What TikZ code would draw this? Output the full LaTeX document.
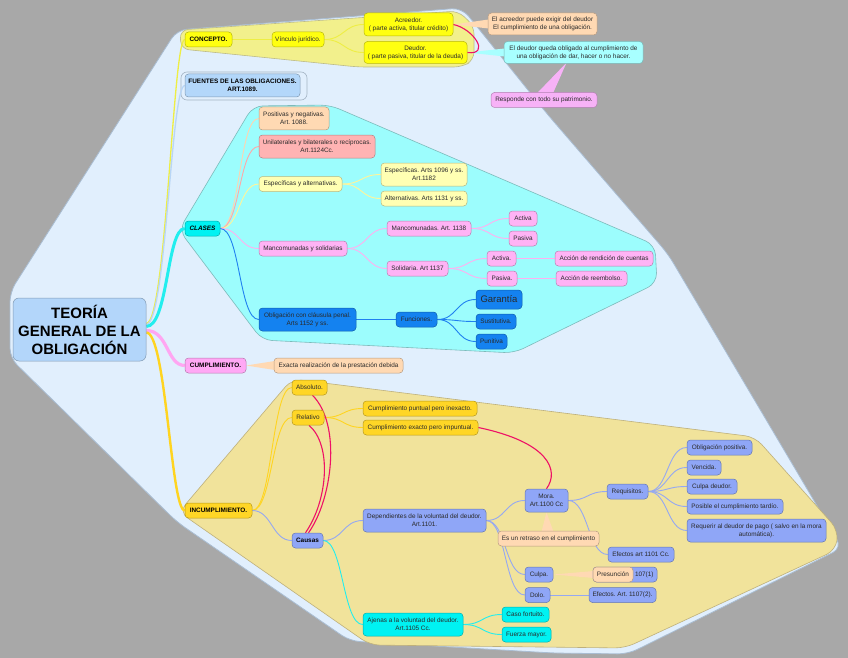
\documentclass[tikz,border=0pt]{standalone}
\usepackage{fontspec}
\setmainfont{Liberation Sans}
\frenchspacing
\usetikzlibrary{calc}
\pgfdeclarelayer{regions}
\pgfdeclarelayer{links}
\pgfsetlayers{regions,links,main}
\definecolor{bggray}{HTML}{A8A8A8}
\definecolor{outerc}{HTML}{E1EFFD}
\definecolor{outerl}{HTML}{A9BDD2}
\definecolor{conreg}{HTML}{F2F08C}
\definecolor{conregl}{HTML}{BDBB88}
\definecolor{fuentl}{HTML}{A4B4C4}
\definecolor{cyreg}{HTML}{9CFDFD}
\definecolor{cyregl}{HTML}{7DBABA}
\definecolor{khreg}{HTML}{F1E39B}
\definecolor{khregl}{HTML}{BEB07C}
\definecolor{rootc}{HTML}{B3D6FA}
\definecolor{yeln}{HTML}{FFFF10}
\definecolor{fuent}{HTML}{B3D7FA}
\definecolor{peach}{HTML}{FFD9B3}
\definecolor{salmon}{HTML}{FFB3B3}
\definecolor{lyel}{HTML}{FFFFB3}
\definecolor{pinkn}{HTML}{FFB3F5}
\definecolor{cumplc}{HTML}{FFA8F5}
\definecolor{blun}{HTML}{1482F0}
\definecolor{goldn}{HTML}{FFD626}
\definecolor{peri}{HTML}{8FA6F7}
\definecolor{cyann}{HTML}{00F2F2}
\definecolor{callcy}{HTML}{A8FFFF}
\definecolor{respink}{HTML}{F7B2F7}
\definecolor{txtc}{HTML}{2A2A2A}
\definecolor{magc}{HTML}{EE1166}
\definecolor{yelline}{HTML}{EEEE44}
\definecolor{fuline}{HTML}{B8D6F6}
\definecolor{cyline}{HTML}{22EEEE}
\definecolor{pkline}{HTML}{FFA6F2}
\definecolor{gdline}{HTML}{FFD420}
\definecolor{peline}{HTML}{95A8F2}
\definecolor{blline}{HTML}{2080F0}
\definecolor{lyline}{HTML}{FFF59A}
\definecolor{pcline}{HTML}{FFD4B0}
\definecolor{slline}{HTML}{FFA8A8}
\definecolor{mpline}{HTML}{FFB0F0}
\newcommand\tn{\fontsize{6.4}{7.8}\selectfont}
\newcommand\tbf{\fontsize{6.4}{7.8}\selectfont\bfseries}
\newcommand\cnx[4]{\draw[lk=#1] (#2) .. controls +(#4,0) and +(-#4,0) .. (#3);}
\tikzset{
  nb/.style={rounded corners=3.5pt, line width=0.5pt, inner sep=0pt, align=center, font=\tn, text=txtc},
  fl/.style={nb, fill=#1, draw=#1!72!black},
  lk/.style={line width=0.9pt, draw=#1},
  rel/.style={line width=1.1pt, draw=magc},
}
\begin{document}
\begin{tikzpicture}[x=1pt,y=-1pt]
\useasboundingbox (0,0) rectangle (848,658);
\begin{pgfonlayer}{regions}
\fill[bggray] (0,0) rectangle (848,658);
\filldraw[fill=outerc, draw=outerl, line width=0.8pt, rounded corners=10pt] (10,292) -- (177,30) -- (462,8) -- (548,115) -- (668,254) -- (713,330) -- (842,548) -- (628,654) -- (553,653) -- (350,641) -- (177,522) -- (10,358) -- cycle;
\filldraw[fill=conreg, draw=conregl, line width=0.6pt, rounded corners=8pt] (180,30) -- (458,11) -- (474,26) -- (474,60) -- (462,67) -- (358,67) -- (181,49) -- cycle;
\draw[draw=fuentl, line width=0.6pt, rounded corners=6pt] (181,72) rectangle (307,100);
\filldraw[fill=cyreg, draw=cyregl, line width=0.6pt, rounded corners=10pt] (179,230) -- (253,106) -- (330,105) -- (655,245) -- (657,283) -- (514,353) -- (262,340) -- cycle;
\filldraw[fill=khreg, draw=khregl, line width=0.6pt, rounded corners=10pt] (179,512) -- (292,379) -- (755,437) -- (838,530) -- (836,550) -- (625,648) -- (370,645) -- cycle;
\end{pgfonlayer}

% root
\node[fl=rootc, rounded corners=6pt, minimum width=133pt, minimum height=63pt, font=\fontsize{15}{18}\selectfont\bfseries, text=black] (root) at (79.5,329.5) {TEORÍA\\GENERAL DE LA\\OBLIGACIÓN};

% concepto
\node[fl=yeln, minimum width=47pt, minimum height=15pt, font=\tbf, text=black] (concepto) at (208.5,39.5) {CONCEPTO.};
\node[fl=yeln, minimum width=52pt, minimum height=15pt] (vinculo) at (298,39.5) {Vínculo jurídico.};
\node[fl=yeln, minimum width=89pt, minimum height=23pt] (acreedor) at (408.5,24.5) {Acreedor.\\( parte activa, titular crédito)};
\node[fl=yeln, minimum width=103pt, minimum height=22pt] (deudor) at (415.5,52.5) {Deudor.\\( parte pasiva, titular de la deuda)};
\node[fl=peach, minimum width=109pt, minimum height=22pt] (acnote) at (542.5,24) {El acreedor puede exigir del deudor\\El cumplimiento de una obligación.};
\node[fl=callcy, minimum width=139pt, minimum height=22pt] (denote) at (573.5,52.5) {El deudor queda obligado al cumplimiento de\\una obligación de dar, hacer o no hacer.};
\node[fl=respink, minimum width=106pt, minimum height=15pt] (respon) at (544,100) {Responde con todo su patrimonio.};

% fuentes
\node[fl=fuent, minimum width=115pt, minimum height=23pt, font=\tbf, text=black] (fuentes) at (242.5,85.5) {FUENTES DE LAS OBLIGACIONES.\\ART.1089.};

% clases
\node[fl=cyann, minimum width=35pt, minimum height=15pt, font=\tbf\itshape, text=black] (clases) at (202.5,228.5) {CLASES};
\node[fl=peach, minimum width=70pt, minimum height=23pt] (positivas) at (294,118.5) {Positivas y negativas.\\Art. 1088.};
\node[fl=salmon, minimum width=116pt, minimum height=23pt] (unilat) at (317,146.5) {Unilaterales y bilaterales o recíprocas.\\Art.1124Cc.};
\node[fl=lyel, minimum width=83pt, minimum height=15pt] (espalt) at (300.5,184) {Específicas y alternativas.};
\node[fl=lyel, minimum width=86pt, minimum height=23pt] (esparts) at (424,174.5) {Específicas. Arts 1096 y ss.\\Art.1182};
\node[fl=lyel, minimum width=86pt, minimum height=15pt] (altern) at (424,198.5) {Alternativas. Arts 1131 y ss.};
\node[fl=pinkn, minimum width=88pt, minimum height=15pt] (mancsol) at (303,248.5) {Mancomunadas y solidarias};
\node[fl=pinkn, minimum width=84pt, minimum height=15pt] (manc) at (429,228.5) {Mancomunadas. Art. 1138};
\node[fl=pinkn, minimum width=28pt, minimum height=15pt] (mact) at (523,218.5) {Activa};
\node[fl=pinkn, minimum width=28pt, minimum height=15pt] (mpas) at (523,238.5) {Pasiva};
\node[fl=pinkn, minimum width=61pt, minimum height=15pt] (solid) at (417.5,268.5) {Solidaria. Art 1137};
\node[fl=pinkn, minimum width=29pt, minimum height=15pt] (sact) at (501.5,258.5) {Activa.};
\node[fl=pinkn, minimum width=30pt, minimum height=15pt] (spas) at (502,278.5) {Pasiva.};
\node[fl=pinkn, minimum width=98pt, minimum height=15pt] (rendic) at (604,258.5) {Acción de rendición de cuentas};
\node[fl=pinkn, minimum width=71pt, minimum height=15pt] (reemb) at (591.5,278.5) {Acción de reembolso.};
\node[fl=blun, minimum width=97pt, minimum height=23pt] (oblig) at (307.5,319.5) {Obligación con cláusula penal.\\Arts 1152 y ss.};
\node[fl=blun, minimum width=41pt, minimum height=15pt] (funci) at (416.5,319.5) {Funciones.};
\node[fl=blun, minimum width=46pt, minimum height=19pt, font=\fontsize{9.5}{11}\selectfont] (garan) at (499,299.5) {Garantía};
\node[fl=blun, minimum width=40pt, minimum height=15pt] (sustit) at (496,321.5) {Sustitutiva.};
\node[fl=blun, minimum width=31pt, minimum height=15pt] (punit) at (491.5,341.5) {Punitiva};

% cumplimiento
\node[fl=cumplc, minimum width=61pt, minimum height=15pt, font=\tbf, text=black] (cumpl) at (215.5,365.5) {CUMPLIMIENTO.};
\node[fl=peach, minimum width=129pt, minimum height=15pt] (exacta) at (338.5,365.5) {Exacta realización de la prestación debida};

% incumplimiento
\node[fl=goldn, minimum width=67pt, minimum height=15pt, font=\tbf, text=black] (incump) at (218.5,510.5) {INCUMPLIMIENTO.};
\node[fl=goldn, minimum width=35pt, minimum height=15pt] (absol) at (309.5,387.5) {Absoluto.};
\node[fl=goldn, minimum width=32pt, minimum height=15pt] (relat) at (308,417.5) {Relativo};
\node[fl=goldn, minimum width=114pt, minimum height=15pt] (cpunt) at (420,408.5) {Cumplimiento puntual pero inexacto.};
\node[fl=goldn, minimum width=115pt, minimum height=15pt] (cexac) at (420.5,427.5) {Cumplimiento exacto pero impuntual.};
\node[fl=peri, minimum width=31pt, minimum height=15pt, font=\tbf, text=black] (causas) at (307.5,540.5) {Causas};
\node[fl=peri, minimum width=123pt, minimum height=23pt] (depend) at (424.5,520.5) {Dependientes de la voluntad del deudor.\\Art.1101.};
\node[fl=peri, minimum width=43pt, minimum height=23pt] (mora) at (546.5,500.5) {Mora.\\Art.1100 Cc};
\node[fl=peri, minimum width=41pt, minimum height=15pt] (requis) at (627.5,491.5) {Requisitos.};
\node[fl=peri, minimum width=65pt, minimum height=15pt] (obpos) at (719.5,447.5) {Obligación positiva.};
\node[fl=peri, minimum width=34pt, minimum height=15pt] (venc) at (704,467.5) {Vencida.};
\node[fl=peri, minimum width=50pt, minimum height=15pt] (culpad) at (712,486.5) {Culpa deudor.};
\node[fl=peri, minimum width=96pt, minimum height=15pt] (posib) at (735,506.5) {Posible el cumplimiento tardío.};
\node[fl=peri, minimum width=139pt, minimum height=23pt] (requer) at (756.5,530.5) {Requerir al deudor de pago ( salvo en la mora\\automática).};
\node[fl=peach, minimum width=101pt, minimum height=15pt] (retraso) at (548.5,538.5) {Es un retraso en el cumplimiento};
\node[fl=peri, minimum width=66pt, minimum height=15pt] (efeA) at (641,554.5) {Efectos art 1101 Cc.};
\node[fl=peri, minimum width=28pt, minimum height=15pt] (culpa) at (539,574.5) {Culpa.};
\node[fl=peri, minimum width=64pt, minimum height=15pt, text width=57pt, align=right] (efeB) at (625,574.5) {107(1)};
\node[fl=peach, minimum width=40pt, minimum height=15pt] (presun) at (613,574.5) {Presunción};
\node[fl=peri, minimum width=25pt, minimum height=15pt] (dolo) at (537.5,595) {Dolo.};
\node[fl=peri, minimum width=67pt, minimum height=15pt] (efeC) at (622.5,595) {Efectos. Art. 1107(2).};
\node[fl=cyann, minimum width=100pt, minimum height=23pt] (ajenas) at (413,624.5) {Ajenas a la voluntad del deudor.\\Art.1105 Cc.};
\node[fl=cyann, minimum width=47pt, minimum height=15pt] (caso) at (525.5,614.5) {Caso fortuito.};
\node[fl=cyann, minimum width=49pt, minimum height=15pt] (fuerza) at (526.5,634.5) {Fuerza mayor.};

\begin{pgfonlayer}{links}
% root branches
\draw[lk=yelline, line width=1.3pt] ([yshift=6pt]root.east) .. controls +(20,0) and +(-12,0) .. (concepto.west);
\draw[lk=fuline, line width=1.3pt] ([yshift=5pt]root.east) .. controls +(20,0) and +(-14,0) .. (fuentes.west);
\draw[lk=cyline, line width=3pt] ([yshift=3pt]root.east) .. controls +(22,0) and +(-18,0) .. (clases.west);
\draw[lk=pkline, line width=3.2pt] ([yshift=-1pt]root.east) .. controls +(22,0) and +(-18,0) .. (cumpl.west);
\draw[lk=gdline, line width=2.4pt] ([yshift=-3pt]root.east) .. controls +(20,0) and +(-14,0) .. (incump.west);
% concepto
\draw[lk=yelline] (concepto.east) -- (vinculo.west);
\cnx{yelline}{vinculo.east}{acreedor.west}{20}
\cnx{yelline}{vinculo.east}{deudor.west}{20}
% clases
\cnx{pcline}{clases.east}{positivas.west}{20}
\cnx{slline}{clases.east}{unilat.west}{20}
\cnx{lyline}{clases.east}{espalt.west}{20}
\cnx{mpline}{clases.east}{mancsol.west}{20}
\cnx{blline}{clases.east}{oblig.west}{20}
\cnx{lyline}{espalt.east}{esparts.west}{20}
\cnx{lyline}{espalt.east}{altern.west}{20}
\cnx{mpline}{mancsol.east}{manc.west}{20}
\cnx{mpline}{mancsol.east}{solid.west}{20}
\cnx{mpline}{manc.east}{mact.west}{20}
\cnx{mpline}{manc.east}{mpas.west}{20}
\cnx{mpline}{solid.east}{sact.west}{20}
\cnx{mpline}{solid.east}{spas.west}{20}
\draw[lk=mpline] (sact.east) -- (rendic.west);
\draw[lk=mpline] (spas.east) -- (reemb.west);
\draw[lk=blline] (oblig.east) -- (funci.west);
\cnx{blline}{funci.east}{garan.west}{20}
\cnx{blline}{funci.east}{sustit.west}{20}
\cnx{blline}{funci.east}{punit.west}{20}
% incumplimiento
\cnx{gdline}{incump.east}{absol.west}{20}
\cnx{gdline}{incump.east}{relat.west}{20}
\cnx{peline}{incump.east}{causas.west}{20}
\cnx{gdline}{relat.east}{cpunt.west}{20}
\cnx{gdline}{relat.east}{cexac.west}{20}
\cnx{peline}{causas.east}{depend.west}{20}
\cnx{cyline}{causas.east}{ajenas.west}{20}
\cnx{peline}{depend.east}{mora.west}{20}
\cnx{peline}{depend.east}{culpa.west}{20}
\cnx{peline}{depend.east}{dolo.west}{20}
\cnx{peline}{mora.east}{requis.west}{20}
\cnx{peline}{mora.east}{efeA.west}{20}
\cnx{peline}{requis.east}{obpos.west}{20}
\cnx{peline}{requis.east}{venc.west}{20}
\cnx{peline}{requis.east}{culpad.west}{20}
\cnx{peline}{requis.east}{posib.west}{20}
\cnx{peline}{requis.east}{requer.west}{20}
\draw[lk=peline] (dolo.east) -- (efeC.west);
\cnx{cyline}{ajenas.east}{caso.west}{20}
\cnx{cyline}{ajenas.east}{fuerza.west}{20}
% callout wedges
\fill[peach] (acreedor.east) -- ($(acnote.west)+(1,-4.5)$) -- ($(acnote.west)+(1,4.5)$) -- cycle;
\fill[callcy] (deudor.east) -- ($(denote.west)+(1,-4)$) -- ($(denote.west)+(1,4)$) -- cycle;
\fill[respink] ($(respon.north)+(-7,1)$) -- ($(respon.north)+(9,1)$) -- ($(denote.south)+(-7,-1)$) -- cycle;
\fill[peach] (cumpl.east) -- ($(exacta.west)+(1,-4.5)$) -- ($(exacta.west)+(1,4.5)$) -- cycle;
\fill[peach] ($(retraso.north)+(-7,1)$) -- ($(retraso.north)+(5,1)$) -- (mora.south) -- cycle;
\fill[peach] (culpa.east) -- ($(presun.west)+(1,-3.5)$) -- ($(presun.west)+(1,3.5)$) -- cycle;
% relationships
\draw[rel] (acreedor.east) .. controls +(20,4) and +(24,3) .. (deudor.east);
\draw[rel] ($(absol.south)+(3,0)$) .. controls (342,425) and (332,500) .. ($(causas.north)+(1,0)$);
\draw[rel] ($(relat.south)+(1,0)$) .. controls (332,445) and (328,500) .. ($(causas.north)+(-2,0)$);
\draw[rel] (cexac.east) .. controls (548,442) and (560,470) .. (mora.north);
\end{pgfonlayer}
\end{tikzpicture}
\end{document}
